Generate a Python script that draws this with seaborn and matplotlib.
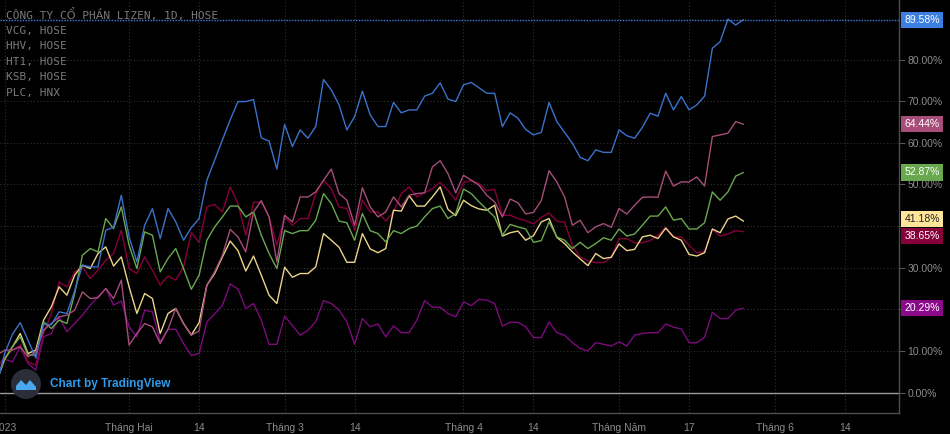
import pandas as pd
import seaborn as sns
import matplotlib.pyplot as plt
from matplotlib.patches import Circle, Polygon
from matplotlib.transforms import IdentityTransform

# trading sessions, 0 = first session of 2023 (-1 = last session of 2022)
session = list(range(-1, 96))

lizen = [2.0,
         9.4, 14.0, 16.8, 12.6, 8.3, 16.4, 16.3, 19.4, 19.0, 24.4,
         30.6, 30.2, 30.2, 39.0, 39.7, 47.4, 37.4, 31.4, 40.2, 44.2,
         37.0, 44.2, 41.0, 36.6, 39.6, 41.8, 51.0, 55.8, 60.7, 65.5,
         69.9, 69.9, 70.4, 61.2, 60.4, 53.7, 64.4, 59.1, 63.1, 61.1,
         63.9, 75.2, 72.7, 69.1, 63.1, 66.3, 72.4, 66.7, 63.9, 63.9,
         69.7, 67.2, 67.9, 67.9, 71.2, 71.9, 74.4, 70.5, 69.9, 73.9,
         74.5, 73.2, 71.9, 71.9, 63.9, 67.2, 65.9, 63.2, 61.9, 62.5,
         69.7, 65.1, 62.5, 59.9, 56.5, 55.7, 58.3, 57.7, 57.7, 63.1,
         61.7, 61.1, 63.7, 67.1, 66.4, 71.9, 67.9, 71.1, 67.9, 69.1,
         71.2, 82.7, 84.3, 89.7, 88.3, 89.58]
vcg = [9.0,
       10.2, 10.2, 11.0, 8.6, 9.8, 15.0, 16.6, 18.2, 18.6, 19.8,
       24.2, 22.6, 22.8, 25.0, 22.6, 27.0, 11.4, 14.2, 16.6, 15.8,
       11.8, 15.2, 20.2, 16.6, 13.8, 14.8, 25.8, 29.0, 33.0, 39.2,
       37.4, 33.8, 43.4, 46.1, 42.2, 31.4, 42.6, 41.0, 47.0, 47.0,
       48.2, 51.0, 53.7, 47.8, 46.2, 40.2, 49.2, 44.6, 42.2, 43.4,
       47.0, 44.6, 47.4, 47.8, 48.0, 54.2, 55.7, 52.6, 48.0, 52.2,
       51.0, 49.8, 47.4, 45.8, 42.2, 46.5, 45.6, 42.9, 43.3, 46.1,
       53.3, 50.6, 47.0, 40.2, 41.4, 38.4, 39.8, 40.6, 39.7, 44.2,
       42.9, 45.0, 46.9, 47.0, 46.9, 53.2, 49.6, 50.6, 50.6, 51.8,
       49.6, 61.5, 61.9, 62.3, 65.1, 64.44]
hhv = [3.0,
       8.0, 11.0, 13.4, 9.0, 9.0, 17.0, 15.4, 17.4, 16.6, 23.8,
       33.0, 34.6, 33.8, 41.8, 39.4, 44.6, 35.4, 29.8, 38.6, 37.8,
       29.0, 32.2, 34.6, 29.8, 24.8, 28.2, 36.6, 39.8, 42.2, 44.8,
       44.8, 42.2, 43.4, 37.8, 33.4, 29.8, 38.9, 38.2, 38.9, 38.9,
       41.4, 47.8, 45.4, 41.2, 40.8, 36.6, 43.0, 38.9, 38.2, 36.2,
       38.9, 38.2, 39.4, 40.0, 42.2, 44.2, 44.8, 41.8, 43.0, 48.9,
       47.8, 45.8, 44.0, 42.2, 37.8, 40.4, 39.8, 39.3, 36.1, 36.5,
       41.0, 37.4, 36.6, 34.6, 36.1, 34.6, 35.8, 37.2, 36.6, 39.3,
       37.6, 38.1, 40.2, 42.4, 42.4, 44.6, 41.4, 41.8, 39.3, 39.3,
       40.8, 48.2, 46.2, 48.2, 52.0, 52.87]
ht1 = [3.0,
       8.0, 11.0, 14.2, 9.4, 10.2, 17.4, 20.6, 25.4, 23.4, 28.2,
       30.6, 29.8, 33.4, 35.0, 30.4, 32.6, 25.4, 19.0, 23.8, 22.6,
       14.2, 19.0, 20.2, 16.6, 13.8, 16.8, 25.8, 28.6, 32.6, 36.4,
       34.1, 29.2, 32.8, 28.2, 23.4, 21.4, 30.1, 27.7, 28.6, 28.6,
       30.2, 38.2, 36.6, 34.9, 31.3, 31.3, 38.2, 34.5, 33.6, 34.6,
       43.8, 43.6, 47.3, 44.8, 44.8, 47.0, 49.4, 44.0, 42.5, 46.2,
       44.9, 44.1, 43.8, 45.0, 37.6, 38.4, 38.8, 36.6, 37.7, 41.0,
       41.8, 37.3, 35.8, 33.8, 32.1, 30.5, 33.4, 32.2, 32.5, 35.7,
       34.1, 34.4, 37.4, 37.8, 37.0, 39.5, 37.4, 36.6, 33.2, 32.8,
       33.6, 39.3, 38.4, 41.7, 42.4, 41.18]
ksb = [6.0,
       8.5, 10.2, 11.4, 7.4, 6.6, 14.2, 19.0, 26.6, 25.4, 29.0,
       30.2, 27.4, 29.4, 31.8, 33.4, 39.0, 29.8, 28.6, 32.6, 29.4,
       25.8, 28.0, 27.0, 30.2, 38.4, 36.1, 44.6, 45.2, 43.4, 49.4,
       45.4, 37.8, 45.7, 45.7, 42.2, 35.4, 42.2, 40.2, 41.8, 41.8,
       47.8, 51.0, 49.0, 44.6, 44.2, 39.0, 46.2, 43.4, 43.4, 41.2,
       43.4, 47.8, 49.4, 47.0, 48.0, 49.0, 50.5, 48.6, 46.2, 50.5,
       50.9, 50.2, 48.5, 48.8, 42.6, 42.6, 41.8, 41.3, 40.5, 42.1,
       43.2, 41.2, 40.9, 35.4, 32.5, 31.7, 31.2, 31.2, 32.5, 37.0,
       37.0, 36.0, 36.0, 36.5, 37.8, 39.7, 37.4, 37.4, 35.4, 33.6,
       33.8, 39.2, 37.6, 38.1, 38.9, 38.65]
plc = [4.0,
       8.0, 7.4, 11.0, 7.0, 5.4, 13.4, 14.2, 18.2, 14.6, 16.6,
       18.6, 21.0, 23.0, 25.0, 21.0, 22.0, 15.8, 13.4, 19.8, 19.4,
       12.2, 15.2, 15.2, 11.8, 8.9, 9.4, 17.0, 18.9, 21.0, 26.1,
       24.9, 20.2, 21.4, 17.4, 11.6, 11.6, 18.4, 16.1, 13.8, 15.0,
       17.0, 22.1, 21.4, 19.8, 17.0, 11.6, 17.8, 15.8, 16.5, 13.4,
       16.0, 14.4, 14.4, 17.4, 22.1, 20.5, 20.5, 19.0, 18.2, 21.8,
       20.9, 22.4, 22.2, 21.4, 16.0, 16.9, 16.9, 15.8, 13.2, 13.2,
       17.0, 14.4, 13.8, 12.0, 10.6, 10.0, 12.0, 11.6, 11.2, 12.2,
       11.2, 13.8, 14.2, 14.4, 14.4, 16.5, 15.7, 15.3, 12.0, 12.0,
       13.3, 19.3, 17.8, 17.8, 19.8, 20.29]

symbols = ['PLC', 'KSB', 'HT1', 'HHV', 'VCG', 'LIZEN']
series = [plc, ksb, ht1, hhv, vcg, lizen]
legend_lines = ['CÔNG TY CỔ PHẦN LIZEN, 1D, HOSE', 'VCG, HOSE', 'HHV, HOSE',
                'HT1, HOSE', 'KSB, HOSE', 'PLC, HNX']

line_colors = {'LIZEN': '#3b72cc', 'VCG': '#a64d79', 'HHV': '#6aa84f',
               'HT1': '#ecd48a', 'KSB': '#87003a', 'PLC': '#7d0a7d'}
box_colors = {'LIZEN': '#3d7fe0', 'VCG': '#a64d79', 'HHV': '#6aa84f',
              'HT1': '#ffe599', 'KSB': '#87003a', 'PLC': '#8a0a8a'}

tick_pos = [0, 16, 25, 36, 45, 59, 68, 79, 88, 99, 108]
tick_lab = ['2023', 'Tháng Hai', '14', 'Tháng 3', '14', 'Tháng 4', '14',
            'Tháng Năm', '17', 'Tháng 6', '14']
# price scale levels; 20%, 40% and 90% sit under the value tags
scale_levels = list(range(0, 90, 10))
hidden_levels = [20, 40]

df = pd.concat([pd.DataFrame({'session': session, 'pct': v, 'symbol': s})
                for s, v in zip(symbols, series)], ignore_index=True)

sns.set_style('dark')
plt.rcParams['font.family'] = ['Liberation Sans', 'DejaVu Sans']

fig = plt.figure(figsize=(9.5, 4.34), dpi=100, facecolor='black')
ax = fig.add_axes([0, 21 / 434, 899 / 950, 413 / 434])
ax.set_facecolor('black')

sns.lineplot(data=df, x='session', y='pct', hue='symbol', palette=line_colors,
             hue_order=symbols, linewidth=1.0, legend=False, ax=ax, zorder=3)

ax.set_xlim(-0.6, 115)
ax.set_ylim(-4.9, 94.3)

# grid
for y in range(10, 90, 10):
    ax.axhline(y, color='#333333', lw=0.8, ls=(0, (1, 2)), zorder=1)
for x in tick_pos:
    ax.axvline(x, color='#333333', lw=0.8, ls=(0, (1, 2)), zorder=1)
ax.axhline(0, color='#9a9a9a', lw=1.0, zorder=2)
ax.axhline(lizen[-1], color='#3d7fe0', lw=1.0, ls=(0, (1, 1)), zorder=2)

ax.set_xticks(tick_pos)
ax.set_xticklabels(tick_lab)
ax.yaxis.tick_right()
ax.set_yticks(scale_levels)
ax.set_yticklabels(['' if v in hidden_levels else f'{v:.2f}%' for v in scale_levels])
ax.tick_params(axis='both', colors='#555555', labelcolor='#8c8c8c',
               labelsize=7.5, length=4, width=0.8, direction='out')
ax.tick_params(axis='y', pad=2)
ax.tick_params(axis='x', pad=3)
ax.set_xlabel('')
ax.set_ylabel('')
ax.grid(False)
for side in ['top', 'left']:
    ax.spines[side].set_visible(False)
for side in ['right', 'bottom']:
    ax.spines[side].set_visible(True)
    ax.spines[side].set_color('#4d4d4d')
    ax.spines[side].set_linewidth(1.0)

# last value tags on the price scale
nudge = {'HT1': 0.6, 'KSB': -1.0}
for s, v in zip(symbols, series):
    ax.annotate(f'{v[-1]:.2f}%', xy=(1.0, v[-1] + nudge.get(s, 0)),
                xycoords=('axes fraction', 'data'), xytext=(4, 0),
                textcoords='offset points', va='center', ha='left',
                fontsize=7.5, color='#222222' if s == 'HT1' else 'white',
                annotation_clip=False, zorder=5,
                bbox=dict(boxstyle='square,pad=0.3', fc=box_colors[s], ec='none'))

# legend text
for k, t in enumerate(legend_lines):
    fig.text(6 / 950, 1 - (15 + 15.6 * k) / 434, t, va='center', ha='left',
             fontsize=8, color='#7a7a7a', family=['DejaVu Sans Mono', 'DejaVu Sans'])

# watermark
fig.add_artist(Circle((26, 50), 15, transform=IdentityTransform(),
                      fc='#2a2e39', ec='none', zorder=6))
fig.add_artist(Polygon([(16, 44), (16, 48), (21, 54), (26, 49), (30, 54), (36, 47), (36, 44)],
                       closed=True, transform=IdentityTransform(),
                       fc='#4aa8f0', ec='none', zorder=7))
fig.text(50 / 950, 50 / 434, 'Chart by TradingView', va='center', ha='left',
         fontsize=8.5, fontweight='bold', color='#2f9be8', zorder=7)

fig.savefig('out.png', dpi=100, facecolor='black')
